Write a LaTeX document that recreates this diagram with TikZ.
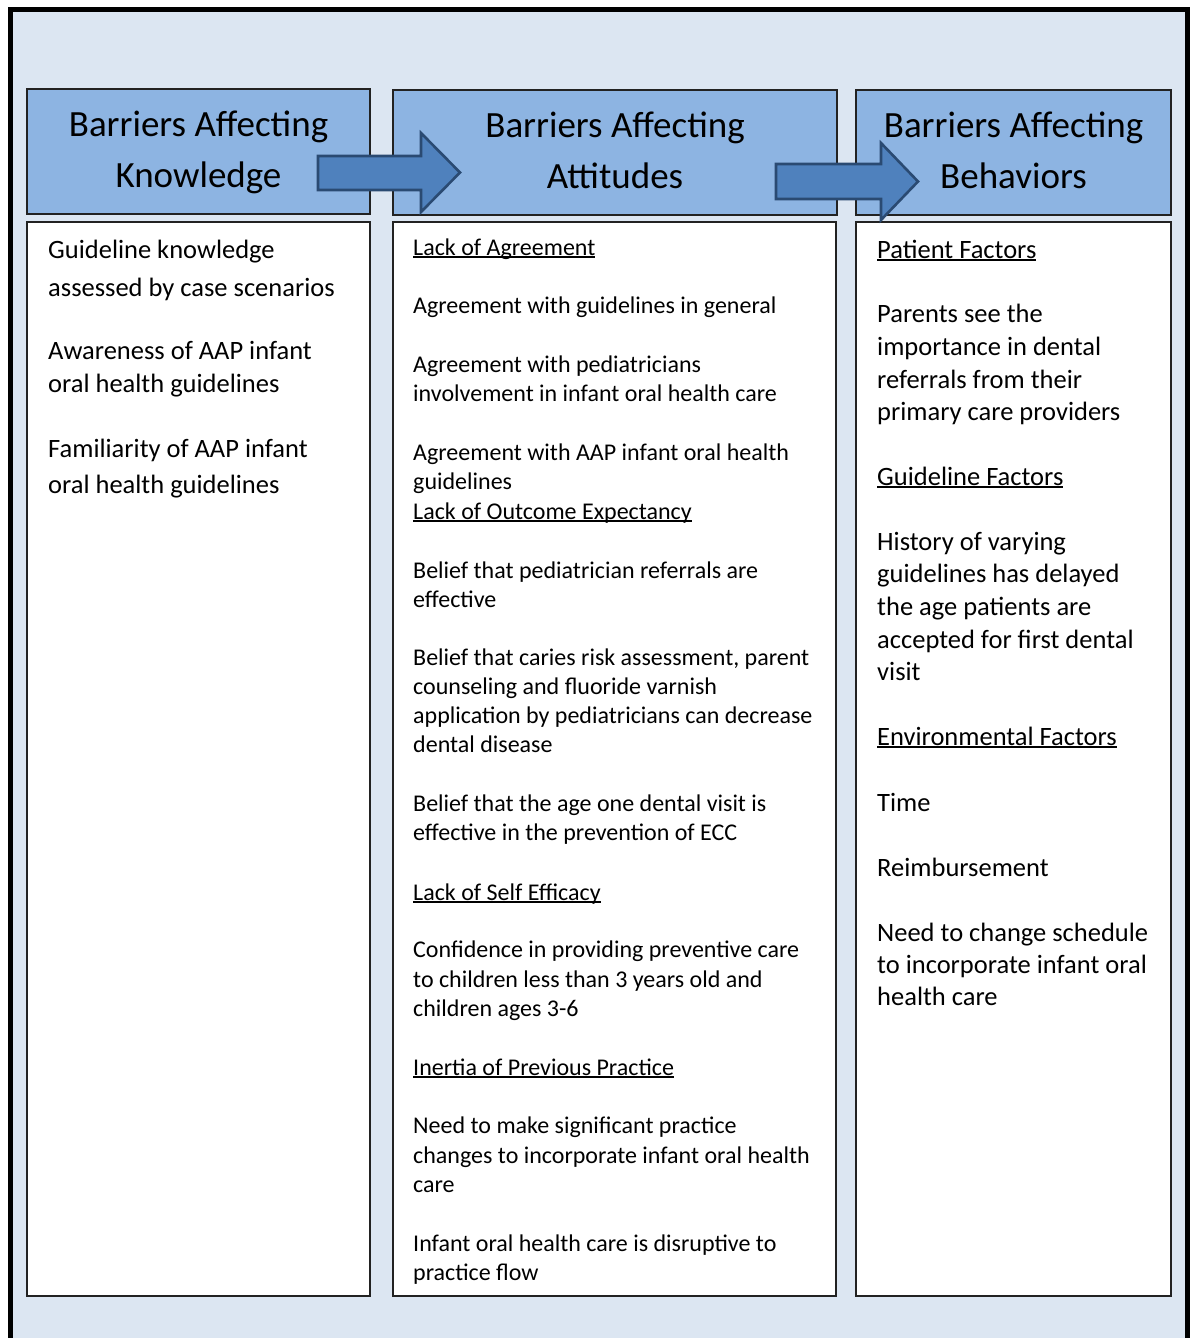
\documentclass[tikz,border=0pt]{standalone}
\usepackage{fontspec}
\setmainfont{Carlito}
\definecolor{bgblue}{HTML}{DCE6F2}
\definecolor{hdrblue}{HTML}{8DB4E2}
\definecolor{arrfill}{HTML}{4F81BD}
\definecolor{arrline}{HTML}{2A4A72}
\definecolor{boxline}{HTML}{222222}
\newcommand\ulx[1]{\setbox0=\hbox{#1}\rlap{\rule[-0.11em]{\wd0}{0.06em}}\box0}
\tikzset{
  hbox/.style={draw=boxline, fill=hdrblue, line width=1.6pt, inner sep=0pt, align=center,
    font=\fontsize{37}{51}\selectfont},
  bbox/.style={draw=boxline, fill=white, line width=1.6pt, inner sep=0pt},
  tA/.style={anchor=base west, inner sep=0pt, font=\fontsize{26.5}{32}\selectfont},
  tB/.style={anchor=base west, inner sep=0pt, font=\fontsize{24}{29}\selectfont},
  blockarrow/.style={draw=arrline, fill=arrfill, line width=2.6pt, line join=miter},
}
\begin{document}
\begin{tikzpicture}[x=1pt,y=-1pt]
\useasboundingbox (0,0) rectangle (1191,1338);
% background and frame
\fill[white] (0,0) rectangle (1191,1338);
\begin{scope}
\clip (0,0) rectangle (1191,1338);
\draw[fill=bgblue, line width=4.5pt] (10.5,9.5) rectangle (1187.5,1360);
\end{scope}
% headers
\node[hbox, minimum width=343pt, minimum height=125pt] (h1) at (198.5,151.5) {\strut Barriers Affecting\\\strut Knowledge};
\node[hbox, minimum width=444pt, minimum height=125pt] (h2) at (615,152.5) {\strut Barriers Affecting\\\strut Attitudes};
\node[hbox, minimum width=315pt, minimum height=125pt] (h3) at (1013.5,152.5) {\strut Barriers Affecting\\\strut Behaviors};
% bodies
\node[bbox, minimum width=343pt, minimum height=1074pt] (b1) at (198.5,759) {};
\node[bbox, minimum width=443pt, minimum height=1074pt] (b2) at (614.5,759) {};
\node[bbox, minimum width=315pt, minimum height=1074pt] (b3) at (1013.5,759) {};
% block arrows
\draw[blockarrow] (318,156) -- (421,156) -- (421,133) -- (460,172.5) -- (421,212) -- (421,190) -- (318,190) -- cycle;
\draw[blockarrow] (776,164) -- (881,164) -- (881,143) -- (918,181.5) -- (881,220) -- (881,199) -- (776,199) -- cycle;
% column 1
\node[tA] (k1) at (48,258) {Guideline knowledge};
\node[tA] (k2) at (48,296) {assessed by case scenarios};
\node[tA] (k3) at (48,359) {Awareness of AAP infant};
\node[tA] (k4) at (48,392) {oral health guidelines};
\node[tA] (k5) at (48,457) {Familiarity of AAP infant};
\node[tA] (k6) at (48,493) {oral health guidelines};
% column 2
\node[tB] (a1) at (413,255) {\ulx{Lack of Agreement}};
\node[tB] (a2) at (413,313) {Agreement with guidelines in general};
\node[tB] (a3) at (413,372) {Agreement with pediatricians};
\node[tB] (a4) at (413,401) {involvement in infant oral health care};
\node[tB] (a5) at (413,460) {Agreement with AAP infant oral health};
\node[tB] (a6) at (413,489) {guidelines};
\node[tB] (a7) at (413,519) {\ulx{Lack of Outcome Expectancy}};
\node[tB] (a8) at (413,578) {Belief that pediatrician referrals are};
\node[tB] (a9) at (413,607) {effective};
\node[tB] (a10) at (413,665) {Belief that caries risk assessment, parent};
\node[tB] (a11) at (413,694) {counseling and fluoride varnish};
\node[tB] (a12) at (413,723) {application by pediatricians can decrease};
\node[tB] (a13) at (413,752) {dental disease};
\node[tB] (a14) at (413,811) {Belief that the age one dental visit is};
\node[tB] (a15) at (413,840) {effective in the prevention of ECC};
\node[tB] (a16) at (413,900) {\ulx{Lack of Self Efficacy}};
\node[tB] (a17) at (413,957) {Confidence in providing preventive care};
\node[tB] (a18) at (413,987) {to children less than 3 years old and};
\node[tB] (a19) at (413,1016) {children ages 3-6};
\node[tB] (a20) at (413,1075) {\ulx{Inertia of Previous Practice}};
\node[tB] (a21) at (413,1133) {Need to make significant practice};
\node[tB] (a22) at (413,1163) {changes to incorporate infant oral health};
\node[tB] (a23) at (413,1192) {care};
\node[tB] (a24) at (413,1251) {Infant oral health care is disruptive to};
\node[tB] (a25) at (413,1280) {practice flow};
% column 3
\node[tA] (c1) at (877,258) {\ulx{Patient Factors}};
\node[tA] (c2) at (877,322) {Parents see the};
\node[tA] (c3) at (877,355) {importance in dental};
\node[tA] (c4) at (877,388) {referrals from their};
\node[tA] (c5) at (877,420) {primary care providers};
\node[tA] (c6) at (877,485) {\ulx{Guideline Factors}};
\node[tA] (c7) at (877,550) {History of varying};
\node[tA] (c8) at (877,582) {guidelines has delayed};
\node[tA] (c9) at (877,615) {the age patients are};
\node[tA] (c10) at (877,648) {accepted for first dental};
\node[tA] (c11) at (877,680) {visit};
\node[tA] (c12) at (877,745) {\ulx{Environmental Factors}};
\node[tA] (c13) at (877,811) {Time};
\node[tA] (c14) at (877,876) {Reimbursement};
\node[tA] (c15) at (877,941) {Need to change schedule};
\node[tA] (c16) at (877,973) {to incorporate infant oral};
\node[tA] (c17) at (877,1005) {health care};
\end{tikzpicture}
\end{document}
